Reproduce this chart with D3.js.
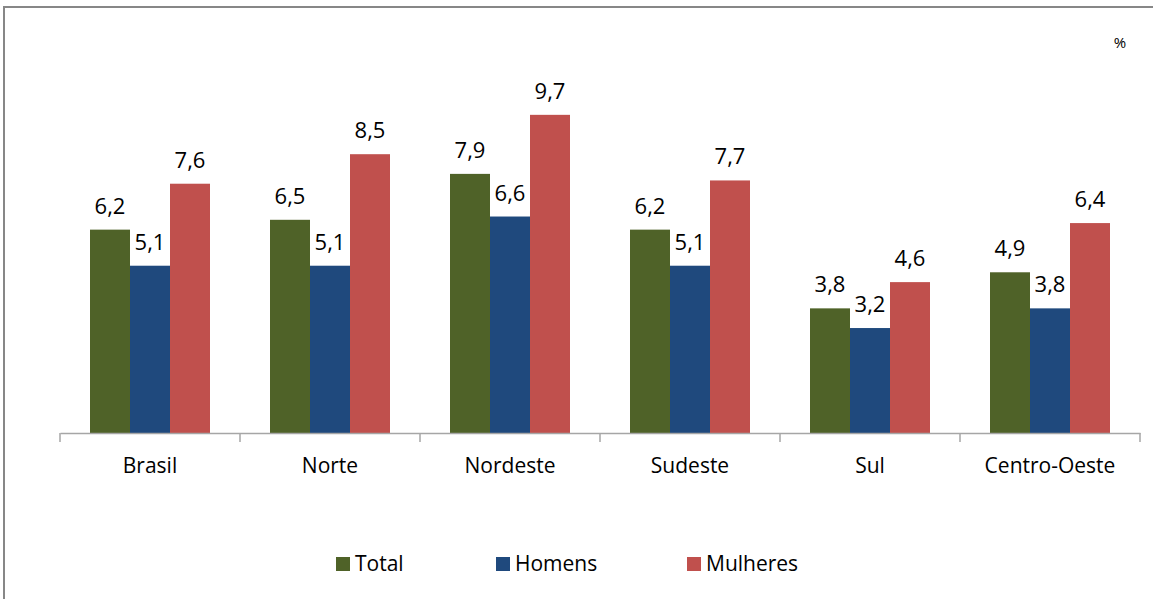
<!DOCTYPE html>
<html>
<head>
<meta charset="utf-8">
<script src="https://cdn.jsdelivr.net/npm/d3@7"></script>
<style>
  body { margin: 0; background: #fff; }
  svg { display: block; font-family: "Open Sans", "Liberation Sans", sans-serif; }
</style>
</head>
<body>
<svg id="chart" width="1153" height="599"></svg>
<script>
const regions = ["Brasil", "Norte", "Nordeste", "Sudeste", "Sul", "Centro-Oeste"];
const series = ["Total", "Homens", "Mulheres"];
const total = [6.2, 6.5, 7.9, 6.2, 3.8, 4.9];
const homens = [5.1, 5.1, 6.6, 5.1, 3.2, 3.8];
const mulheres = [7.6, 8.5, 9.7, 7.7, 4.6, 6.4];
const colors = ["#4F6228", "#1F497D", "#C0504D"];

const values = [total, homens, mulheres];
const fmt = v => d3.format(".1f")(v).replace(".", ",");

const svg = d3.select("#chart");

// moldura
svg.append("rect")
    .attr("x", 4).attr("y", 7)
    .attr("width", 1160).attr("height", 600)
    .attr("fill", "none")
    .attr("stroke", "#878787")
    .attr("stroke-width", 2);

let x = d3.scaleBand().domain(regions).range([60, 1140]);
let xs = d3.scaleBand().domain(series).range([30, 150]);
let y = d3.scaleLinear().domain([0, 10]).range([433, 105]);

const groups = svg.append("g").selectAll("g")
    .data(regions)
    .join("g")
    .attr("transform", d => `translate(${x(d)},0)`);

series.forEach((s, si) => {
    groups.append("rect")
        .attr("x", xs(s))
        .attr("width", xs.bandwidth())
        .attr("y", (d, i) => y(values[si][i]))
        .attr("height", (d, i) => y(0) - y(values[si][i]))
        .attr("fill", colors[si]);

    groups.append("text")
        .attr("x", xs(s) + xs.bandwidth() / 2)
        .attr("y", (d, i) => y(values[si][i]) - 16)
        .attr("text-anchor", "middle")
        .attr("font-size", 22)
        .attr("fill", "#000")
        .text((d, i) => fmt(values[si][i]));
});

// eixo x
let xAxis = d3.axisBottom(x).tickSize(0).tickPadding(25);
const ax = svg.append("g")
    .attr("transform", "translate(0,433)")
    .call(xAxis);
ax.select(".domain").attr("stroke", "#A6A6A6").attr("stroke-width", 1.5);
ax.selectAll(".tick text").attr("font-size", 21).attr("fill", "#000")
    .attr("font-family", "\"Open Sans\", sans-serif");

// marcas entre categorias
const bounds = regions.map(r => x(r)).concat([x.range()[1]]);
svg.append("g").selectAll("line")
    .data(bounds)
    .join("line")
    .attr("x1", d => d).attr("x2", d => d)
    .attr("y1", 433).attr("y2", 442)
    .attr("stroke", "#A6A6A6")
    .attr("stroke-width", 1.5);

// unidade
svg.append("text")
    .attr("x", 1120).attr("y", 48)
    .attr("text-anchor", "middle")
    .attr("font-size", 15)
    .text("%");

// legenda
const legendX = [336, 496, 687];
const legend = svg.append("g").selectAll("g")
    .data(series)
    .join("g")
    .attr("transform", (d, i) => `translate(${legendX[i]},557)`);
legend.append("rect")
    .attr("width", 14).attr("height", 14)
    .attr("fill", (d, i) => colors[i]);
legend.append("text")
    .attr("x", 19).attr("y", 14)
    .attr("font-size", 21)
    .text(d => d);
</script>
</body>
</html>
